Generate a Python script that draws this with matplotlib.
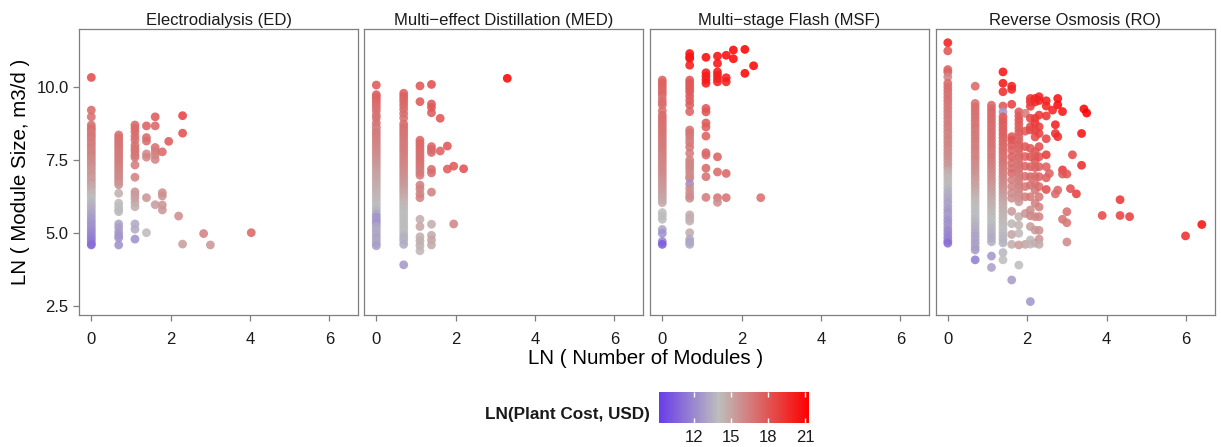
import numpy as np
import matplotlib
matplotlib.use("Agg")
import matplotlib.pyplot as plt
from matplotlib.colors import LinearSegmentedColormap, Normalize

plt.rcParams["font.family"] = ["Liberation Sans", "DejaVu Sans"]

# ---------------------------------------------------------------- data
panel_titles = ["Electrodialysis (ED)", "Multi\u2212effect Distillation (MED)",
                "Multi\u2212stage Flash (MSF)", "Reverse Osmosis (RO)"]

x_ticks = [0, 2, 4, 6]
y_ticks = [2.5, 5.0, 7.5, 10.0]
y_tick_labels = ["2.5", "5.0", "7.5", "10.0"]
cost_ticks = [12, 15, 18, 21]
cost_range = [9.16, 21.3]
cost_mid = 14.0

# Electrodialysis: LN(number of modules), LN(module size), LN(plant cost)
ed_modules = [
    0, 0, 0, 0, 0, 0, 0, 0, 0, 0, 0, 0, 0, 0, 0, 0, 0, 0, 0, 0, 0, 0, 0, 0, 0, 0,
    0, 0, 0, 0, 0, 0, 0, 0, 0, 0, 0, 0, 0, 0, 0, 0, 0, 0, 0, 0, 0, 0, 0, 0, 0, 0,
    0.69, 0.69, 0.69, 0.69, 0.69, 0.69, 0.69, 0.69, 0.69, 0.69, 0.69, 0.69, 0.69, 0.69, 0.69, 0.69,
    0.69, 0.69, 0.69, 0.69, 0.69, 0.69, 0.69, 0.69, 0.69, 0.69, 0.69, 0.69, 0.69, 0.69, 0.69,
    1.10, 1.10, 1.10, 1.10, 1.10, 1.10, 1.10, 1.10, 1.10, 1.10,
    1.10, 1.10, 1.10, 1.10, 1.10, 1.10, 1.10, 1.10, 1.10, 1.10,
    1.39, 1.39, 1.39, 1.39, 1.39, 1.39, 1.39,
    1.61, 1.61, 1.61, 1.61, 1.61, 1.61, 1.61,
    1.79, 1.79, 1.79, 1.79, 1.79,
    1.95, 2.20, 2.30, 2.30, 2.30, 2.83, 3.00, 4.03,
]
ed_size = [
    10.34, 9.22, 8.99, 8.71, 8.62, 8.55, 8.46, 8.38, 8.30, 8.21, 8.12, 8.04, 7.95, 7.86, 7.78, 7.69,
    7.60, 7.52, 7.43, 7.34, 7.25, 7.17, 7.08, 6.99, 6.90, 6.82, 6.73, 6.64, 6.56, 6.47, 6.38, 6.30,
    6.21, 6.12, 6.03, 5.95, 5.86, 5.77, 5.69, 5.60, 5.51, 5.42, 5.34, 5.25, 5.16, 5.08, 4.99, 4.90,
    4.82, 4.73, 4.64, 4.60,
    8.37, 8.28, 8.19, 8.10, 8.01, 7.92, 7.83, 7.74, 7.65, 7.56, 7.47, 7.38, 7.29, 7.20, 7.11, 7.02,
    6.93, 6.84, 6.75, 6.66, 6.37, 6.03, 5.91, 5.80, 5.74, 5.32, 5.20, 5.05, 4.93, 4.84, 4.60,
    8.71, 8.60, 8.48, 8.33, 8.20, 8.02, 7.90, 7.80, 7.68, 7.60,
    7.34, 6.92, 6.42, 6.32, 6.20, 6.05, 5.91, 5.32, 5.14, 4.80,
    8.68, 8.28, 8.16, 7.72, 7.61, 6.22, 5.02,
    8.99, 8.68, 7.94, 7.82, 7.68, 7.53, 5.98,
    7.79, 6.39, 6.28, 5.97, 5.80,
    8.15, 5.59, 9.03, 8.43, 4.63, 4.99, 4.60, 5.02,
]
ed_cost = [
    18.4, 17.2, 17.0, 16.9, 16.8, 17.0, 16.7, 16.6, 16.8, 16.5, 16.6, 16.4, 16.5, 16.3, 16.2, 16.4,
    16.1, 16.0, 15.9, 16.0, 15.7, 15.6, 15.5, 15.6, 15.3, 15.2, 15.3, 15.0, 14.8, 14.6, 14.4, 14.2,
    14.0, 13.9, 13.7, 13.6, 13.4, 13.3, 13.1, 13.0, 12.8, 12.7, 12.6, 12.4, 12.3, 12.2, 12.0, 11.9,
    11.7, 11.5, 11.3, 11.0,
    17.0, 16.9, 16.9, 16.8, 16.8, 16.7, 16.7, 16.6, 16.6, 16.5, 16.5, 16.4, 16.3, 16.2, 16.2, 16.1,
    16.0, 15.9, 15.8, 15.6, 14.5, 14.2, 14.0, 14.0, 13.9, 13.0, 12.9, 12.7, 12.6, 12.5, 12.3,
    17.3, 17.2, 17.2, 17.1, 17.0, 16.9, 16.9, 16.8, 16.8, 16.7,
    16.6, 16.3, 15.6, 15.4, 15.2, 15.0, 14.6, 13.2, 13.3, 12.3,
    17.6, 17.2, 17.1, 15.9, 16.2, 15.6, 14.1,
    17.8, 17.4, 16.9, 16.6, 16.3, 16.2, 15.3,
    17.2, 15.8, 15.7, 15.6, 15.5,
    17.8, 15.8, 18.7, 18.3, 15.2, 16.3, 15.5, 17.3,
]

# Multi-effect distillation
med_modules = [
    0, 0, 0, 0, 0, 0, 0, 0, 0, 0, 0, 0, 0, 0, 0, 0, 0, 0, 0, 0, 0, 0, 0, 0, 0, 0, 0,
    0, 0, 0, 0, 0, 0, 0, 0, 0, 0, 0, 0, 0, 0, 0, 0, 0, 0, 0, 0, 0, 0, 0, 0, 0, 0,
    0.69, 0.69, 0.69, 0.69, 0.69, 0.69, 0.69, 0.69, 0.69, 0.69, 0.69, 0.69, 0.69, 0.69, 0.69, 0.69, 0.69,
    0.69, 0.69, 0.69, 0.69, 0.69, 0.69, 0.69, 0.69, 0.69, 0.69, 0.69, 0.69, 0.69, 0.69, 0.69, 0.69, 0.69,
    0.69, 0.69, 0.69, 0.69, 0.69, 0.69, 0.69, 0.69, 0.69, 0.69, 0.69, 0.69, 0.69, 0.69, 0.69, 0.69, 0.69,
    1.10, 1.10, 1.10, 1.10, 1.10, 1.10, 1.10, 1.10, 1.10, 1.10, 1.10, 1.10, 1.10,
    1.10, 1.10, 1.10, 1.10, 1.10, 1.10, 1.10, 1.10, 1.10, 1.10, 1.10, 1.10,
    1.39, 1.39, 1.39, 1.39, 1.39, 1.39, 1.39, 1.39, 1.39, 1.39, 1.39, 1.39, 1.39, 1.39,
    1.61, 1.61, 1.79, 1.79, 1.95, 1.95, 2.20, 3.30,
]
med_size = [
    10.08, 9.75, 9.68, 9.60, 9.50, 9.40, 9.30, 9.20, 9.05, 8.95, 8.78, 8.65,
    8.55, 8.45, 8.35, 8.25, 8.15, 8.05, 7.95, 7.85, 7.75, 7.65, 7.55, 7.45, 7.35, 7.25,
    7.15, 7.05, 6.95, 6.85, 6.75, 6.65, 6.55, 6.45, 6.35, 6.25, 6.15, 6.05, 5.95, 5.85,
    5.75, 5.65, 5.55, 5.45, 5.35, 5.25, 5.15, 5.05, 4.95, 4.85, 4.75, 4.65, 4.57,
    9.80, 9.70, 9.60, 9.50, 9.38, 9.25, 9.10, 8.95, 8.75, 8.65,
    8.55, 8.45, 8.35, 8.25, 8.15, 8.05, 7.95, 7.85, 7.75, 7.65, 7.55, 7.45, 7.35, 7.25,
    7.15, 7.05, 6.95, 6.85, 6.75, 6.65, 6.55, 6.45, 6.35, 6.25, 6.15, 6.05, 5.95, 5.85,
    5.75, 5.65, 5.55, 5.45, 5.35, 5.25, 5.15, 5.05, 4.95, 4.85, 4.75, 4.62, 3.92,
    10.05, 9.51, 8.19, 8.09, 7.99, 7.89, 7.79, 7.69, 7.59, 7.49, 7.39, 7.29, 7.19,
    7.09, 6.99, 6.65, 6.52, 6.35, 6.22, 5.48, 5.23, 4.88, 4.74, 4.58, 4.40,
    10.10, 9.43, 9.31, 9.13, 7.97, 7.87, 7.77, 7.19, 7.07, 6.41, 5.31, 4.93, 4.77, 4.60,
    8.94, 7.82, 7.99, 7.20, 7.30, 5.32, 7.21, 10.31,
]
med_cost = [
    17.8, 17.6, 17.5, 17.5, 17.3, 17.2, 17.0, 16.9, 16.9, 16.8, 16.9, 16.7,
    16.2, 16.6, 16.5, 16.4, 16.3, 16.2, 16.1, 16.0, 16.0, 15.8, 15.7, 15.6, 15.5, 15.4,
    15.2, 15.1, 15.0, 14.9, 14.8, 14.7, 14.6, 14.5, 14.4, 14.3, 14.2, 14.1, 14.0, 13.9,
    13.6, 13.1, 12.4, 12.6, 12.3, 13.0, 13.2, 13.3, 13.2, 13.0, 13.2, 13.1, 12.9,
    17.6, 17.6, 17.5, 17.4, 17.3, 17.2, 17.1, 17.0, 17.0, 16.9,
    16.9, 16.8, 16.8, 16.7, 16.7, 16.6, 16.6, 16.5, 16.5, 16.4, 16.3, 16.3, 16.2, 16.1,
    16.0, 15.9, 15.8, 15.7, 15.6, 15.5, 15.3, 15.1, 14.9, 14.8, 14.6, 14.4, 14.3, 14.2,
    14.1, 14.0, 14.1, 14.0, 13.9, 14.0, 13.9, 14.0, 13.8, 13.4, 13.6, 13.3, 12.6,
    18.0, 17.9, 17.4, 17.3, 17.2, 17.2, 17.1, 17.0, 16.9, 17.0, 16.8, 16.8, 16.7,
    16.6, 16.7, 16.4, 16.3, 16.2, 16.3, 14.6, 14.9, 14.5, 14.6, 14.5, 14.3,
    18.3, 17.9, 17.8, 17.8, 17.4, 17.4, 17.3, 17.2, 17.1, 16.3, 14.6, 14.8, 14.9, 14.8,
    18.0, 17.6, 18.0, 17.7, 17.8, 16.2, 18.2, 21.0,
]

# Multi-stage flash
msf_modules = [
    0, 0, 0, 0, 0, 0, 0, 0, 0, 0, 0, 0, 0, 0, 0, 0, 0, 0, 0, 0, 0, 0, 0, 0,
    0, 0, 0, 0, 0, 0, 0, 0, 0, 0, 0, 0, 0, 0, 0, 0, 0, 0, 0, 0, 0, 0, 0, 0,
    0.69, 0.69, 0.69, 0.69, 0.69, 0.69, 0.69, 0.69, 0.69, 0.69, 0.69, 0.69, 0.69,
    0.69, 0.69, 0.69, 0.69, 0.69, 0.69, 0.69, 0.69, 0.69, 0.69, 0.69, 0.69, 0.69,
    0.69, 0.69, 0.69, 0.69, 0.69, 0.69, 0.69, 0.69, 0.69, 0.69, 0.69, 0.69, 0.69,
    1.10, 1.10, 1.10, 1.10, 1.10, 1.10, 1.10, 1.10, 1.10, 1.10, 1.10, 1.10, 1.10, 1.10, 1.10,
    1.39, 1.39, 1.39, 1.39, 1.39, 1.39, 1.39, 1.39, 1.39, 1.39,
    1.61, 1.61, 1.61, 1.61, 1.61,
    1.79, 1.79, 2.08, 2.08, 2.30, 2.48,
]
msf_size = [
    10.25, 10.15, 10.05, 9.95, 9.85, 9.75, 9.62, 9.50, 9.40, 9.20, 9.05,
    8.95, 8.85, 8.75, 8.65, 8.55, 8.45, 8.35, 8.25, 8.15, 8.05, 7.95, 7.85, 7.75, 7.65, 7.55,
    7.45, 7.35, 7.25, 7.15, 7.05, 6.95, 6.85, 6.75, 6.65, 6.55, 6.45, 6.35, 6.25, 6.15, 6.05,
    5.71, 5.60, 5.48, 5.13, 5.00, 4.72, 4.62,
    11.16, 11.05, 10.99, 10.76, 10.25, 10.15, 10.05, 9.95, 9.85, 9.70, 9.55, 9.40, 9.17,
    8.54, 8.45, 8.35, 8.22, 8.10, 7.95, 7.74, 7.51, 7.40, 7.30, 7.20, 7.08, 6.95,
    6.88, 6.69, 6.54, 6.40, 6.28, 6.20, 5.63, 5.52, 5.42, 5.02, 4.80, 4.70, 4.62,
    11.03, 10.50, 10.38, 10.26, 10.14, 9.28, 9.16, 8.78, 8.64, 8.33, 7.76, 7.68, 7.23, 6.94, 6.23,
    11.07, 10.82, 10.53, 10.42, 10.30, 10.19, 7.62, 7.10, 6.22, 6.06,
    11.10, 10.33, 10.19, 7.05, 6.22,
    11.28, 10.98, 11.30, 10.48, 10.74, 6.22,
]
msf_cost = [
    17.6, 17.6, 17.5, 17.4, 17.3, 17.4, 16.8, 17.2, 17.1, 17.0, 17.1,
    17.0, 17.0, 16.9, 16.9, 16.8, 16.8, 16.7, 16.7, 16.6, 16.6, 16.5, 16.5, 16.4, 16.3, 16.2,
    16.2, 16.1, 16.0, 16.0, 15.9, 15.8, 15.7, 15.6, 15.5, 15.4, 15.3, 15.2, 15.0, 14.9, 14.8,
    14.0, 14.0, 13.9, 13.0, 12.4, 11.8, 10.3,
    20.6, 20.5, 20.4, 20.2, 18.0, 18.0, 17.9, 17.9, 17.8, 17.8, 17.7, 17.7, 17.5,
    16.8, 16.8, 16.7, 16.6, 16.4, 16.7, 16.5, 16.3, 16.2, 16.2, 16.1, 16.0, 16.0,
    16.0, 12.2, 15.8, 15.7, 15.9, 15.9, 14.8, 14.7, 14.5, 14.7, 13.3, 13.0, 13.2,
    20.9, 20.4, 20.3, 20.2, 20.3, 18.0, 18.1, 17.8, 17.7, 17.6, 17.3, 17.2, 17.3, 17.0, 16.6,
    20.7, 20.5, 20.3, 20.2, 20.1, 20.0, 17.5, 17.2, 16.8, 15.8,
    20.8, 20.2, 20.1, 17.3, 16.9,
    21.0, 20.9, 21.2, 21.0, 21.1, 17.0,
]

# Reverse osmosis
ro_modules = [
    0, 0, 0, 0, 0, 0, 0, 0, 0, 0, 0, 0, 0, 0, 0, 0, 0, 0, 0, 0, 0, 0, 0, 0, 0, 0,
    0, 0, 0, 0, 0, 0, 0, 0, 0, 0, 0, 0, 0, 0, 0, 0, 0, 0, 0, 0, 0, 0, 0, 0, 0, 0,
    0.69, 0.69, 0.69, 0.69, 0.69, 0.69, 0.69, 0.69, 0.69, 0.69, 0.69, 0.69, 0.69, 0.69, 0.69,
    0.69, 0.69, 0.69, 0.69, 0.69, 0.69, 0.69, 0.69, 0.69, 0.69, 0.69, 0.69, 0.69, 0.69, 0.69,
    0.69, 0.69, 0.69, 0.69, 0.69, 0.69, 0.69, 0.69, 0.69, 0.69, 0.69, 0.69, 0.69, 0.69, 0.69,
    1.10, 1.10, 1.10, 1.10, 1.10, 1.10, 1.10, 1.10, 1.10, 1.10, 1.10, 1.10, 1.10, 1.10,
    1.10, 1.10, 1.10, 1.10, 1.10, 1.10, 1.10, 1.10, 1.10, 1.10, 1.10, 1.10, 1.10, 1.10,
    1.10, 1.10, 1.10, 1.10, 1.10, 1.10, 1.10, 1.10, 1.10, 1.10, 1.10, 1.10, 1.10, 1.10,
    1.39, 1.39, 1.39, 1.39, 1.39, 1.39, 1.39, 1.39, 1.39, 1.39, 1.39,
    1.39, 1.39, 1.39, 1.39, 1.39, 1.39, 1.39, 1.39, 1.39, 1.39, 1.39,
    1.39, 1.39, 1.39, 1.39, 1.39, 1.39, 1.39, 1.39, 1.39, 1.39, 1.39,
    1.39, 1.39, 1.39, 1.39, 1.39, 1.39, 1.39, 1.39, 1.39, 1.39, 1.39,
    1.61, 1.61, 1.61, 1.61, 1.61, 1.61, 1.61, 1.61, 1.61, 1.61,
    1.61, 1.61, 1.61, 1.61, 1.61, 1.61, 1.61, 1.61, 1.61, 1.61,
    1.79, 1.79, 1.79, 1.79, 1.79, 1.79, 1.79, 1.79, 1.79, 1.79, 1.79, 1.79, 1.79, 1.79,
    1.79, 1.79, 1.79, 1.79, 1.79, 1.79, 1.79, 1.79, 1.79, 1.79, 1.79, 1.79, 1.79, 1.79,
    1.95, 1.95, 1.95, 1.95, 1.95, 1.95, 1.95, 1.95, 1.95, 1.95,
    2.08, 2.08, 2.08, 2.08, 2.08, 2.08, 2.08, 2.08, 2.08,
    2.08, 2.08, 2.08, 2.08, 2.08, 2.08, 2.08, 2.08, 2.08,
    2.20, 2.20, 2.20, 2.20, 2.20, 2.20, 2.20, 2.20, 2.20,
    2.20, 2.20, 2.20, 2.20, 2.20, 2.20, 2.20, 2.20,
    2.30, 2.30, 2.30, 2.30, 2.30, 2.30, 2.30, 2.30,
    2.30, 2.30, 2.30, 2.30, 2.30, 2.30, 2.30, 2.30,
    2.48, 2.48, 2.48, 2.77, 2.77, 2.64, 2.89, 3.43, 3.50, 2.71,
    2.71, 2.77, 3.37, 2.48, 2.48, 3.14, 3.37, 2.89, 2.89, 3.00,
    2.56, 2.48, 2.48, 2.48, 2.77, 2.71, 3.09, 3.24, 4.34, 3.89,
    4.34, 4.58, 3.00, 2.89, 3.00, 3.00, 5.99, 6.40,
]
ro_size = [
    11.53, 11.25, 10.61, 10.52, 10.36,
    10.14, 10.02, 9.90, 9.78, 9.66, 9.54, 9.42, 9.30, 9.18, 9.06, 8.94, 8.82, 8.70, 8.58, 8.46, 8.34,
    8.22, 8.10, 7.98, 7.86, 7.74, 7.62, 7.50, 7.38, 7.26, 7.14, 7.02, 6.90, 6.78, 6.66, 6.54, 6.42,
    6.30, 6.18, 6.06, 5.94, 5.82, 5.70, 5.58, 5.46, 5.34, 5.22, 5.10, 4.98, 4.86, 4.74, 4.66,
    10.04,
    9.45, 9.33, 9.21, 9.09, 8.97, 8.85, 8.73, 8.61, 8.49, 8.37, 8.25, 8.13, 8.01, 7.89,
    7.77, 7.65, 7.53, 7.41, 7.29, 7.17, 7.05, 6.93, 6.81, 6.69, 6.57, 6.45, 6.33, 6.21,
    6.09, 5.97, 5.85, 5.73, 5.61, 5.49, 5.37, 5.25, 5.13, 5.01, 4.89, 4.77, 4.65, 4.53,
    4.43, 4.09,
    9.39, 9.27, 9.15, 9.03, 8.91, 8.79, 8.67, 8.55, 8.43, 8.31, 8.19, 8.07, 7.95, 7.83,
    7.71, 7.59, 7.47, 7.35, 7.23, 7.11, 6.99, 6.87, 6.75, 6.63, 6.51, 6.39, 6.27, 6.15,
    6.03, 5.91, 5.79, 5.67, 5.55, 5.43, 5.31, 5.19, 5.07, 4.95, 4.83, 4.71, 4.22, 3.83,
    10.53, 10.14, 9.85, 9.36, 9.16,
    8.99, 8.87, 8.75, 8.63, 8.51, 8.39, 8.27, 8.15, 8.03, 7.91, 7.79, 7.67, 7.55,
    7.43, 7.31, 7.19, 7.07, 6.95, 6.83, 6.71, 6.59, 6.47, 6.35, 6.23, 6.11, 5.99,
    5.87, 5.75, 5.63, 5.51, 5.39, 5.27, 5.15, 5.03, 4.91, 4.79, 4.67,
    4.34, 4.09,
    10.04, 9.93, 9.42, 8.31, 8.20, 8.02, 7.85, 7.62, 7.40, 7.22,
    7.06, 6.83, 6.60, 6.38, 6.20, 5.75, 5.33, 4.96, 4.62, 3.40,
    9.16, 9.02, 8.88, 8.74, 8.60, 8.46, 8.32, 8.18, 8.04, 7.90, 7.76, 7.62, 7.48, 7.34,
    7.20, 7.06, 6.92, 6.78, 6.64, 6.50, 6.36, 6.22, 6.08, 5.57, 5.28, 5.00, 4.60, 3.91,
    9.11, 8.50, 7.97, 7.63, 7.30, 6.95, 6.60, 6.25, 5.68, 4.62,
    9.62, 9.50, 9.35, 8.94, 8.65, 8.54, 7.91, 7.62, 7.28,
    6.94, 6.65, 6.25, 5.80, 5.60, 5.23, 4.77, 4.63, 2.66,
    9.62, 9.50, 8.94, 8.77, 8.52, 8.30, 7.80, 7.65, 7.49,
    7.25, 6.95, 6.70, 6.48, 6.03, 5.57, 5.11, 4.66,
    9.68, 9.55, 9.05, 8.65, 8.42, 7.97, 7.62, 7.28,
    6.94, 6.60, 6.25, 5.90, 5.57, 5.10, 4.80, 4.62,
    9.54, 9.36, 9.02, 9.62, 9.40, 9.22, 9.17, 9.26, 9.12, 8.72,
    8.42, 8.31, 8.42, 8.24, 7.69, 7.69, 7.33, 7.17, 7.03, 7.03,
    7.05, 7.28, 6.90, 6.50, 6.48, 6.35, 6.53, 6.35, 6.15, 5.61,
    5.61, 5.57, 5.74, 5.48, 5.36, 4.70, 4.91, 5.30,
]
ro_cost = [
    20.0, 18.0, 17.6, 17.5, 16.2,
    17.2, 17.0, 17.1, 16.9, 16.8, 16.9, 16.7, 16.6, 16.7, 16.5, 16.6, 16.4, 16.5, 16.3, 16.4, 16.2,
    16.3, 16.1, 16.2, 16.0, 15.9, 15.8, 15.7, 15.5, 15.4, 14.8, 14.5, 14.3, 14.2, 14.1, 13.8, 13.5,
    13.3, 13.2, 13.0, 13.1, 12.8, 12.6, 12.9, 12.4, 12.3, 12.5, 12.1, 12.0, 11.8, 11.7, 11.0,
    17.3,
    17.0, 17.1, 16.9, 17.0, 16.8, 16.9, 16.7, 16.8, 16.6, 16.7, 16.5, 16.6, 16.4, 16.5,
    16.3, 16.2, 16.3, 16.0, 15.8, 15.9, 15.6, 15.5, 15.3, 15.2, 15.0, 14.8, 14.6, 14.4,
    14.2, 14.1, 14.0, 13.9, 14.0, 13.8, 13.7, 13.5, 13.4, 13.2, 13.0, 13.1, 12.9, 13.0,
    12.8, 11.6,
    17.4, 17.3, 17.4, 17.2, 17.3, 17.1, 17.2, 17.0, 17.1, 16.9, 17.0, 16.8, 16.9, 16.7,
    16.6, 16.7, 16.5, 16.4, 16.3, 16.1, 16.0, 15.8, 15.7, 15.5, 15.3, 15.2, 15.0, 14.8,
    14.6, 14.5, 14.3, 14.2, 14.1, 14.0, 13.9, 13.7, 13.6, 13.5, 13.3, 13.4, 12.6, 12.9,
    20.5, 20.4, 19.5, 18.0, 12.6,
    17.8, 17.7, 17.8, 17.6, 17.7, 17.5, 17.6, 17.4, 17.3, 17.2, 17.1, 17.0, 16.9,
    16.8, 16.7, 16.5, 16.4, 16.3, 16.1, 16.0, 15.8, 15.6, 15.4, 15.2, 15.0, 14.8,
    14.6, 14.5, 14.4, 14.3, 14.2, 14.1, 14.0, 13.9, 13.8, 13.7, 13.6,
    13.8, 14.0,
    20.2, 19.8, 18.8, 18.0, 18.2, 17.8, 17.5, 17.7, 17.3, 17.0,
    17.2, 16.6, 16.3, 16.0, 15.8, 15.4, 14.3, 15.0, 14.6, 12.8,
    17.9, 17.8, 17.9, 17.7, 17.6, 17.7, 17.5, 17.4, 17.6, 17.3, 17.2, 17.1, 17.0, 16.9,
    16.8, 16.7, 16.5, 16.4, 16.3, 16.1, 15.9, 15.7, 15.5, 14.6, 14.4, 14.2, 15.3, 14.0,
    16.5, 17.8, 17.9, 17.6, 17.4, 17.0, 16.6, 16.4, 15.6, 15.0,
    19.4, 19.2, 18.9, 18.6, 18.3, 18.5, 17.9, 17.8, 17.5,
    17.3, 16.9, 16.6, 15.9, 16.1, 15.2, 14.2, 14.4, 12.5,
    19.9, 19.6, 19.0, 19.1, 18.7, 18.4, 17.8, 17.6, 17.8,
    17.4, 17.1, 16.9, 16.7, 16.4, 16.0, 15.4, 14.6,
    20.0, 19.9, 19.2, 18.9, 18.7, 18.3, 18.0, 17.6,
    17.3, 17.0, 16.7, 16.3, 16.2, 15.7, 15.5, 14.8,
    20.1, 19.8, 19.3, 20.6, 20.9, 19.9, 20.5, 21.0, 21.2, 20.0,
    19.5, 19.6, 20.6, 18.6, 19.0, 18.4, 19.6, 19.2, 17.8, 18.0,
    17.5, 17.6, 17.6, 18.3, 17.4, 17.2, 18.3, 18.8, 19.2, 18.5,
    18.7, 18.9, 17.0, 16.8, 16.7, 16.0, 19.5, 20.6,
]

panel_modules = [ed_modules, med_modules, msf_modules, ro_modules]
panel_size = [ed_size, med_size, msf_size, ro_size]
panel_cost = [ed_cost, med_cost, msf_cost, ro_cost]

# ------------------------------------------------ diverging colour scale
low_col, mid_col, high_col = "#6a3de8", "#bebebe", "#ff0000"
mid_pos = (cost_mid - cost_range[0]) / (cost_range[1] - cost_range[0])
cost_cmap = LinearSegmentedColormap.from_list(
    "cost", [(0.0, low_col), (mid_pos, mid_col), (1.0, high_col)])
cost_norm = Normalize(vmin=cost_range[0], vmax=cost_range[1])

# ---------------------------------------------------------------- figure
W, H = 1221, 447
fig = plt.figure(figsize=(W / 100, H / 100), dpi=100)


def px_rect(left, top, right, bottom):
    return [left / W, 1 - bottom / H, (right - left) / W, (bottom - top) / H]


panel_lefts = [79, 364, 650, 935.5]
frame_col = "#7f7f7f"
text_col = "#1a1a1a"

for i, left in enumerate(panel_lefts):
    ax = fig.add_axes(px_rect(left, 29, left + 279, 315))
    ax.scatter(panel_modules[i], panel_size[i], c=panel_cost[i], cmap=cost_cmap,
               norm=cost_norm, s=40, alpha=0.88, linewidths=0, zorder=3)
    ax.set_xlim(-0.31, 6.72)
    ax.set_ylim(2.2, 12.0)
    ax.set_xticks(x_ticks)
    ax.set_xticklabels([str(t) for t in x_ticks])
    ax.set_yticks(y_ticks)
    for sp in ax.spines.values():
        sp.set_color(frame_col)
        sp.set_linewidth(0.9)
    ax.tick_params(axis="x", length=4.5, width=0.9, color=frame_col, pad=7.5,
                   labelsize=12, labelcolor=text_col)
    if i == 0:
        ax.set_yticklabels(y_tick_labels)
        ax.tick_params(axis="y", length=4.5, width=0.9, color=frame_col, pad=3,
                       labelsize=12, labelcolor=text_col)
    else:
        ax.tick_params(axis="y", left=False, labelleft=False)
    ax.set_title(panel_titles[i], fontsize=12, color=text_col, pad=3)

fig.text(646 / W, 1 - 358 / H, "LN ( Number of Modules )", ha="center",
         va="center", fontsize=14.8, color="black")
fig.text(21 / W, 1 - 172 / H, "LN ( Module Size, m3/d )", ha="center",
         va="center", rotation=90, fontsize=14.8, color="black")

# colour bar
cax = fig.add_axes(px_rect(659, 392, 809, 423))
grad = np.linspace(cost_range[0], cost_range[1], 400)
cax.imshow(grad[np.newaxis, :], aspect="auto", cmap=cost_cmap, norm=cost_norm,
           extent=(cost_range[0], cost_range[1], 0, 1), interpolation="bilinear")
cax.set_xlim(cost_range[0], cost_range[1])
cax.set_ylim(0, 1)
cax.set_yticks([])
cax.set_xticks(cost_ticks)
cax.set_xticklabels([str(t) for t in cost_ticks])
for sp in cax.spines.values():
    sp.set_visible(False)
cax.tick_params(axis="x", direction="in", length=3.8, width=1.0, color="white",
                top=True, bottom=True, pad=5, labelsize=12, labelcolor=text_col)
fig.text(650 / W, 1 - 415 / H, "LN(Plant Cost, USD)", ha="right", va="center",
         fontsize=12.3, fontweight="bold", color=text_col)

fig.savefig("out.png", dpi=100)
